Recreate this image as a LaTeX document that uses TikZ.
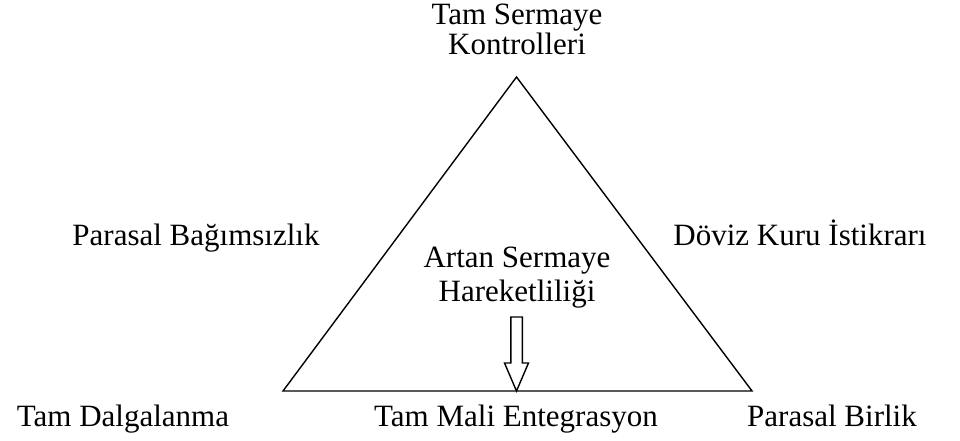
\documentclass[tikz,border=0pt]{standalone}
\usepackage{fontspec}
\setmainfont{Liberation Serif}
\begin{document}
\begin{tikzpicture}[x=1pt,y=-1pt,
  lbl/.style={anchor=base,inner sep=0pt,font=\fontsize{31}{37}\selectfont,align=center},
  edge/.style={line width=1.4pt,line join=miter},
  bigarrow/.style={line width=1.4pt,fill=white,line join=miter}]
\useasboundingbox (0,0) rectangle (960,441);
\coordinate (A) at (516.5,77);
\coordinate (B) at (283,391);
\coordinate (C) at (752,391);
\draw[edge] (A) -- (B) -- (C) -- cycle;
\coordinate (tip) at (516.5,391);
\draw[bigarrow] (510.8,317) -- (522.3,317) -- (522.3,363) -- (528.5,363) -- (tip) -- (504.5,363) -- (510.8,363) -- cycle;
\node[lbl] (top1) at (517,25) {Tam Sermaye};
\node[lbl] (top2) at (517,55) {Kontrolleri};
\node[lbl] (left) at (196,245) {Parasal Bağımsızlık};
\node[lbl] (right) at (800,245) {Döviz Kuru İstikrarı};
\node[lbl] (mid1) at (517,267) {Artan Sermaye};
\node[lbl] (mid2) at (517,301) {Hareketliliği};
\node[lbl] (bl) at (123,426) {Tam Dalgalanma};
\node[lbl] (bm) at (516,426) {Tam Mali Entegrasyon};
\node[lbl] (br) at (832,426) {Parasal Birlik};
\end{tikzpicture}
\end{document}
